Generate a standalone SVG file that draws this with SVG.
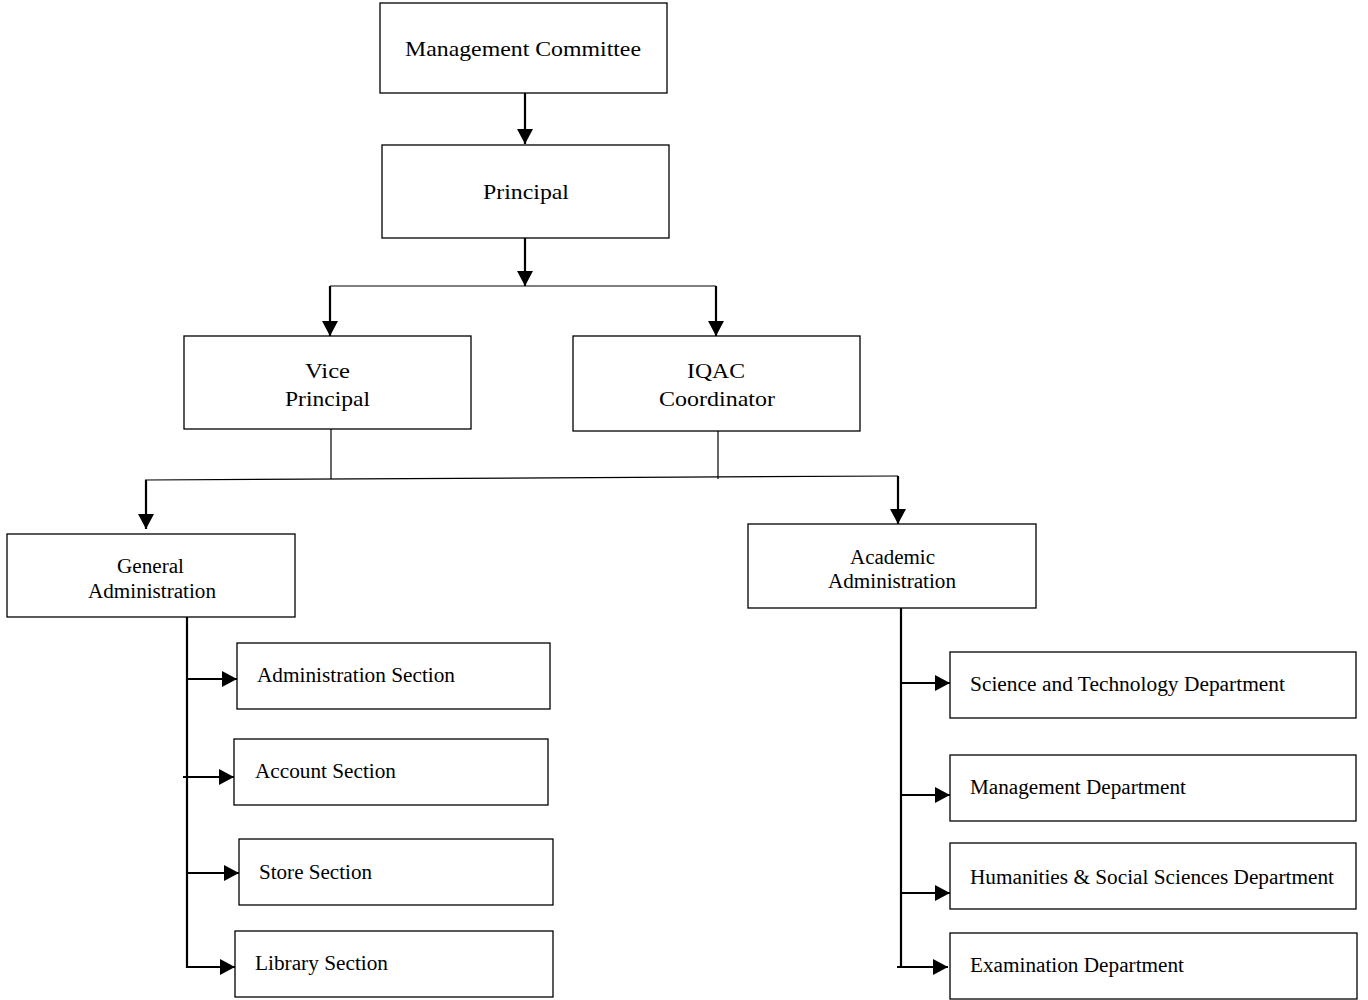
<svg xmlns="http://www.w3.org/2000/svg" width="1368" height="1000" viewBox="0 0 1368 1000">
<style>
.box{fill:#fff;stroke:#000;stroke-width:1.3}
.t{font-family:"Liberation Serif","Times New Roman",serif;fill:#000}
.big{font-size:22px}
.mid{font-size:20px}
.sm{font-size:20px}
.ar{stroke:#000;stroke-width:2.2;fill:none}
.ln{stroke:#000;stroke-width:1.2;fill:none}
</style>
<defs>
<marker id="ah" markerUnits="userSpaceOnUse" markerWidth="16" markerHeight="16" refX="15" refY="8" orient="auto">
<path d="M0,0 L15,8 L0,16 Z" fill="#000"/>
</marker>
</defs>
<rect width="1368" height="1000" fill="#fff"/>
<g id="connectors">
<line class="ar" x1="525" y1="93" x2="525" y2="144" marker-end="url(#ah)"/>
<line class="ar" x1="525" y1="238" x2="525" y2="286" marker-end="url(#ah)"/>
<polyline class="ln" points="330,286 716,286"/>
<line class="ar" x1="330" y1="286" x2="330" y2="336" marker-end="url(#ah)"/>
<line class="ar" x1="716" y1="286" x2="716" y2="336" marker-end="url(#ah)"/>
<line class="ln" x1="331" y1="429" x2="331" y2="479"/>
<line class="ln" x1="718" y1="431" x2="718" y2="479"/>
<line class="ln" x1="145" y1="480" x2="898" y2="476"/>
<line class="ar" x1="146" y1="480" x2="146" y2="529" marker-end="url(#ah)"/>
<line class="ar" x1="898" y1="476" x2="898" y2="524" marker-end="url(#ah)"/>
<line class="ar" x1="187" y1="617" x2="187" y2="968"/>
<line class="ar" x1="186" y1="679" x2="237" y2="679" marker-end="url(#ah)"/>
<line class="ar" x1="183" y1="777" x2="234" y2="777" marker-end="url(#ah)"/>
<line class="ar" x1="186" y1="873" x2="239" y2="873" marker-end="url(#ah)"/>
<line class="ar" x1="186" y1="967" x2="235" y2="967" marker-end="url(#ah)"/>
<line class="ar" x1="901" y1="608" x2="901" y2="968"/>
<line class="ar" x1="901" y1="683" x2="950" y2="683" marker-end="url(#ah)"/>
<line class="ar" x1="901" y1="795" x2="950" y2="795" marker-end="url(#ah)"/>
<line class="ar" x1="901" y1="893" x2="950" y2="893" marker-end="url(#ah)"/>
<line class="ar" x1="897" y1="967" x2="948" y2="967" marker-end="url(#ah)"/>
</g>
<g id="management-committee">
<rect class="box" x="380" y="3" width="287" height="90"/>
<text class="t big" x="405" y="56" textLength="236" lengthAdjust="spacingAndGlyphs">Management Committee</text>
</g>
<g id="principal">
<rect class="box" x="382" y="145" width="287" height="93"/>
<text class="t big" x="483" y="199" textLength="86" lengthAdjust="spacingAndGlyphs">Principal</text>
</g>
<g id="vice-principal">
<rect class="box" x="184" y="336" width="287" height="93"/>
<text class="t big" x="305" y="378" textLength="45" lengthAdjust="spacingAndGlyphs">Vice</text>
<text class="t big" x="285" y="406" textLength="85" lengthAdjust="spacingAndGlyphs">Principal</text>
</g>
<g id="iqac-coordinator">
<rect class="box" x="573" y="336" width="287" height="95"/>
<text class="t big" x="687" y="378" textLength="58" lengthAdjust="spacingAndGlyphs">IQAC</text>
<text class="t big" x="659" y="406" textLength="116" lengthAdjust="spacingAndGlyphs">Coordinator</text>
</g>
<g id="general-administration">
<rect class="box" x="7" y="534" width="288" height="83"/>
<text class="t mid" x="117" y="573" textLength="67" lengthAdjust="spacingAndGlyphs">General</text>
<text class="t mid" x="88" y="598" textLength="128" lengthAdjust="spacingAndGlyphs">Administration</text>
</g>
<g id="academic-administration">
<rect class="box" x="748" y="524" width="288" height="84"/>
<text class="t mid" x="850" y="564" textLength="85" lengthAdjust="spacingAndGlyphs">Academic</text>
<text class="t mid" x="828" y="588" textLength="128" lengthAdjust="spacingAndGlyphs">Administration</text>
</g>
<g id="administration-section">
<rect class="box" x="237" y="643" width="313" height="66"/>
<text class="t sm" x="257" y="682" textLength="198" lengthAdjust="spacingAndGlyphs">Administration Section</text>
</g>
<g id="account-section">
<rect class="box" x="234" y="739" width="314" height="66"/>
<text class="t sm" x="255" y="778" textLength="141" lengthAdjust="spacingAndGlyphs">Account Section</text>
</g>
<g id="store-section">
<rect class="box" x="239" y="839" width="314" height="66"/>
<text class="t sm" x="259" y="879" textLength="113" lengthAdjust="spacingAndGlyphs">Store Section</text>
</g>
<g id="library-section">
<rect class="box" x="235" y="931" width="318" height="66"/>
<text class="t sm" x="255" y="970" textLength="133" lengthAdjust="spacingAndGlyphs">Library Section</text>
</g>
<g id="science-technology">
<rect class="box" x="950" y="652" width="406" height="66"/>
<text class="t sm" x="970" y="691" textLength="315" lengthAdjust="spacingAndGlyphs">Science and Technology Department</text>
</g>
<g id="management-department">
<rect class="box" x="950" y="755" width="406" height="66"/>
<text class="t sm" x="970" y="794" textLength="216" lengthAdjust="spacingAndGlyphs">Management Department</text>
</g>
<g id="humanities">
<rect class="box" x="950" y="843" width="406" height="66"/>
<text class="t sm" x="970" y="884" textLength="364" lengthAdjust="spacingAndGlyphs">Humanities &amp; Social Sciences Department</text>
</g>
<g id="examination">
<rect class="box" x="950" y="933" width="407" height="66"/>
<text class="t sm" x="970" y="972" textLength="214" lengthAdjust="spacingAndGlyphs">Examination Department</text>
</g>
</svg>
